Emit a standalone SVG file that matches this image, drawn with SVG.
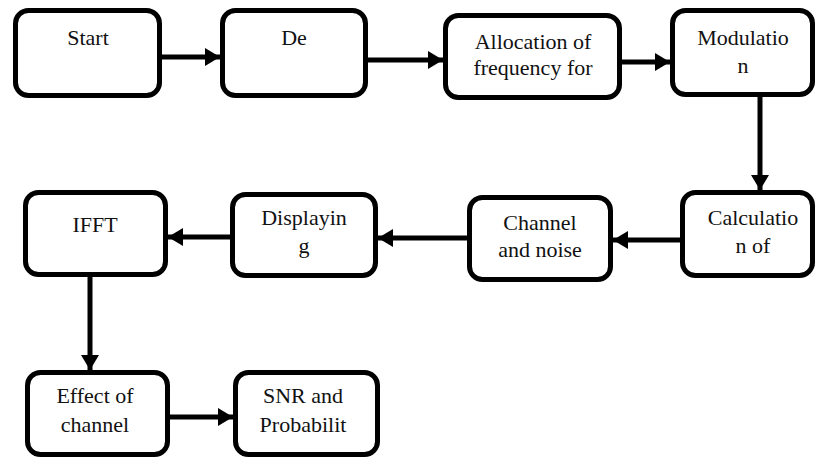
<svg xmlns="http://www.w3.org/2000/svg" width="817" height="462" viewBox="0 0 817 462">
<style>
.box{fill:#fff;stroke:#000;stroke-width:5}
.t{font-family:"Liberation Serif","Times New Roman",serif;font-size:22px;fill:#111;text-anchor:middle}
.c{stroke:#000;stroke-width:5;fill:none;marker-end:url(#ah)}
</style>
<defs>
<marker id="ah" markerUnits="userSpaceOnUse" markerWidth="16" markerHeight="18" refX="15" refY="9" orient="auto">
<path d="M0,0 L15,9 L0,18 Z" fill="#000"/>
</marker>
</defs>
<rect width="817" height="462" fill="#fff"/>
<g id="connectors">
<line class="c" x1="162" y1="57" x2="220" y2="57"/>
<line class="c" x1="368" y1="60" x2="443" y2="60"/>
<line class="c" x1="622" y1="62" x2="670" y2="62"/>
<line class="c" x1="760" y1="97" x2="760" y2="190"/>
<line class="c" x1="680" y1="240" x2="613" y2="240"/>
<line class="c" x1="467" y1="238" x2="378" y2="238"/>
<line class="c" x1="230" y1="237" x2="168" y2="237"/>
<line class="c" x1="90" y1="277" x2="90" y2="370"/>
<line class="c" x1="170" y1="417" x2="233" y2="417"/>
</g>
<g id="start"><rect class="box" x="15.5" y="10.5" width="144" height="85" rx="13"/><text class="t" x="88" y="45">Start</text></g>
<g id="de"><rect class="box" x="222.5" y="10.5" width="143" height="85" rx="13"/><text class="t" x="294" y="45">De</text></g>
<g id="allocation"><rect class="box" x="445.5" y="15.5" width="174" height="82" rx="13"/><text class="t" x="533" y="49">Allocation of</text><text class="t" x="533" y="75">frequency for</text></g>
<g id="modulation"><rect class="box" x="672.5" y="10.5" width="140" height="84" rx="13"/><text class="t" x="743" y="45">Modulatio</text><text class="t" x="743" y="73">n</text></g>
<g id="ifft"><rect class="box" x="25.5" y="192.5" width="140" height="82" rx="13"/><text class="t" x="95" y="232">IFFT</text></g>
<g id="displaying"><rect class="box" x="232.5" y="194.5" width="143" height="81" rx="13"/><text class="t" x="304" y="225">Displayin</text><text class="t" x="304" y="253">g</text></g>
<g id="channel"><rect class="box" x="469.5" y="197.5" width="141" height="82" rx="13"/><text class="t" x="540" y="230">Channel</text><text class="t" x="540" y="257">and noise</text></g>
<g id="calculation"><rect class="box" x="682.5" y="192.5" width="130" height="83" rx="13"/><text class="t" x="753" y="225">Calculatio</text><text class="t" x="753" y="253">n of</text></g>
<g id="effect"><rect class="box" x="27.5" y="372.5" width="140" height="82" rx="13"/><text class="t" x="95" y="403">Effect of</text><text class="t" x="95" y="432">channel</text></g>
<g id="snr"><rect class="box" x="235.5" y="372.5" width="142" height="82" rx="13"/><text class="t" x="303" y="403">SNR and</text><text class="t" x="303" y="432">Probabilit</text></g>
</svg>
